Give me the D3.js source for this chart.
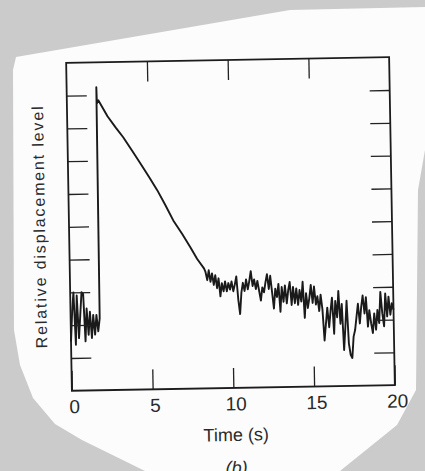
<!DOCTYPE html>
<html>
<head>
<meta charset="utf-8">
<script src="https://cdn.jsdelivr.net/npm/d3@7"></script>
<style>
  body { margin: 0; background: #cbcbcb; }
  svg { display: block; }
  .tickText { font-family: "Liberation Sans", Arial, sans-serif; font-size: 19px; fill: #2a2a2a; }
  .axisText { font-family: "Liberation Sans", Arial, sans-serif; fill: #2a2a2a; }
</style>
</head>
<body>
<div class="chart"></div>
<script>
// x axis labels and y tick levels
var xTicks = [0, 5, 10, 15, 20];
var yTicks = [1, 2, 3, 4, 5, 6, 7, 8, 9];

// sampled traces, one value every sampleStep seconds
var sampleStep = 0.1;
var baselineStart = 0.0;
var baselineLevel = [1.5, 2.4, 3.0, 1.4, 2.9, 1.6, 2.3, 3.0, 2.95, 1.5,
  2.5, 1.7, 2.4, 1.6, 2.3, 1.7, 2.3, 1.8, 2.2];

// step response and decay
var decayTime = [1.84, 1.86, 1.95, 2.5, 3.0, 3.45, 4.0, 4.48, 5.0, 5.5, 6.0, 6.46, 7.0, 7.48, 7.9, 8.31];
var decayLevel = [9.24, 8.75, 8.84, 8.35, 8.0, 7.70, 7.28, 6.90, 6.48, 6.07, 5.6, 5.14, 4.72, 4.32, 3.95, 3.66];

var tailStart = 8.4;
var tailLevel = [
  3.55, 3.30, 3.60, 3.25, 3.50, 3.15, 3.45, 3.05, 3.35, 2.80,
  3.20, 2.95, 3.25, 2.95, 3.20, 3.00, 3.25, 2.95, 3.15, 3.40,
  2.70, 2.25, 2.90, 3.20, 2.95, 3.30, 3.00, 3.25, 3.55, 3.10,
  3.30, 3.00, 3.25, 2.95, 2.65, 3.05, 2.90, 3.20, 3.45, 3.00,
  3.40, 2.90, 2.40, 3.00, 2.75, 3.15, 2.30, 3.05, 2.60, 3.10,
  2.55, 2.95, 3.20, 2.50, 3.05, 2.55, 3.00, 2.50, 2.95, 2.60,
  3.20, 2.10, 2.85, 2.40, 2.70, 3.10, 2.55, 3.05, 2.50, 2.75,
  2.30, 2.80, 2.35, 1.40, 1.90, 2.40, 1.80, 2.30, 2.70, 1.60,
  2.60, 2.10, 2.90, 1.90, 2.50, 1.10, 1.80, 2.60, 1.30, 0.95,
  0.85, 1.50, 1.70, 2.10, 2.50, 1.90, 2.40, 2.75, 2.20, 2.70,
  1.80, 2.30, 1.90, 1.60, 2.20, 1.70, 2.30, 1.90, 2.85, 2.20,
  1.80, 2.80, 2.10, 2.70, 2.15, 2.50, 2.30
];

var svgWidth = 425;
var svgHeight = 471;
var margin = { top: 60, right: 33, bottom: 83, left: 69 };
var width = svgWidth - margin.left - margin.right;
var height = svgHeight - margin.top - margin.bottom;

var svg = d3.select(".chart")
  .append("svg")
  .attr("width", svgWidth)
  .attr("height", svgHeight);

// scanned page background
svg.append("rect")
  .attr("width", svgWidth)
  .attr("height", svgHeight)
  .attr("fill", "#cbcbcb");

var paper = [[425, 7], [290, 10], [16, 57], [13, 70], [14, 330], [20, 365], [33, 398],
  [55, 424], [82, 440], [145, 471], [340, 471], [397, 425], [416, 390], [418, 190], [425, 150]];

svg.append("path")
  .attr("d", d3.line().curve(d3.curveLinear)(paper) + "Z")
  .attr("fill", "#fcfcfc");

// the printed figure sits slightly rotated on the page
var chart = svg.append("g")
  .attr("transform", "rotate(-1, 230, 224) translate(" + margin.left + "," + margin.top + ")");

var xLinearScale = d3.scaleLinear().domain([0, 20]).range([0, width]);
var yLinearScale = d3.scaleLinear().domain([0, 10]).range([height, 0]);

// build the trace
var trace = [];
baselineLevel.forEach(function(v, i) {
  trace.push([+(baselineStart + i * sampleStep).toFixed(2), v]);
});
decayTime.forEach(function(t, i) {
  trace.push([t, decayLevel[i]]);
});
tailLevel.forEach(function(v, i) {
  trace.push([+(tailStart + i * sampleStep).toFixed(2), v]);
});

var line = d3.line()
  .x(function(d) { return xLinearScale(d[0]); })
  .y(function(d) { return yLinearScale(d[1]); });

chart.append("path")
  .datum(trace)
  .attr("d", line)
  .attr("fill", "none")
  .attr("stroke", "#1a1a1a")
  .attr("stroke-width", 1.9)
  .attr("stroke-linejoin", "round");

// inward ticks on all four sides
function styleAxis(g) {
  g.select(".domain").remove();
  g.selectAll(".tick line").attr("stroke", "#222").attr("stroke-width", 1.3);
}

chart.append("g")
  .attr("transform", "translate(0," + height + ")")
  .call(d3.axisBottom(xLinearScale).tickValues(xTicks).tickSizeInner(-20).tickSizeOuter(0).tickPadding(9))
  .call(styleAxis)
  .call(function(g) {
    g.selectAll("text").attr("class", "tickText").attr("font-size", null).attr("font-family", null)
      .attr("fill", null).attr("dx", 2);
  });

chart.append("g")
  .call(d3.axisTop(xLinearScale).tickValues(xTicks.slice(1, -1)).tickSizeInner(-20).tickSizeOuter(0).tickFormat(""))
  .call(styleAxis);

chart.append("g")
  .call(d3.axisLeft(yLinearScale).tickValues(yTicks).tickSizeInner(-20).tickSizeOuter(0).tickFormat(""))
  .call(styleAxis);

chart.append("g")
  .attr("transform", "translate(" + width + ",0)")
  .call(d3.axisRight(yLinearScale).tickValues(yTicks).tickSizeInner(-20).tickSizeOuter(0).tickFormat(""))
  .call(styleAxis);

// frame
chart.append("rect")
  .attr("width", width)
  .attr("height", height)
  .attr("fill", "none")
  .attr("stroke", "#1c1c1c")
  .attr("stroke-width", 1.8);

// axis labels
chart.append("text")
  .attr("transform", "rotate(-90)")
  .attr("x", 0 - height / 2)
  .attr("y", -24)
  .attr("text-anchor", "middle")
  .attr("class", "axisText")
  .attr("font-size", 16)
  .attr("textLength", 242)
  .attr("lengthAdjust", "spacing")
  .text("Relative displacement level");

chart.append("text")
  .attr("x", width / 2 + 2)
  .attr("y", height + 53)
  .attr("text-anchor", "middle")
  .attr("class", "axisText")
  .attr("font-size", 18)
  .text("Time (s)");

chart.append("text")
  .attr("x", width / 2 + 2)
  .attr("y", height + 86)
  .attr("text-anchor", "middle")
  .attr("class", "axisText")
  .attr("font-size", 18)
  .attr("font-style", "italic")
  .text("(b)");
</script>
</body>
</html>
